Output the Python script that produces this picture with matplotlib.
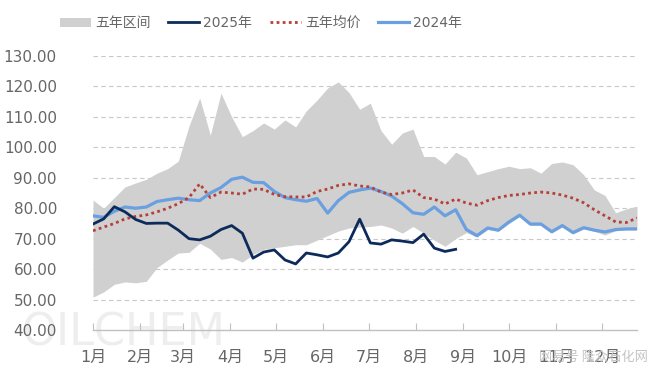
import matplotlib
matplotlib.use("Agg")
import matplotlib.pyplot as plt
import numpy as np

"""DATA (weekly, one point per week)"""
week_day = np.arange(52) * 7

band_high = [82.7, 80.0, 83.5, 87.0, 88.3, 89.5, 91.5, 93.0, 95.5, 107.0,
             116.2, 104.0, 117.8, 110.0, 103.5, 105.5, 108.0, 106.0, 109.0, 106.7,
             112.0, 115.5, 119.5, 121.5, 118.0, 112.5, 114.5, 105.5, 101.0, 104.7,
             106.0, 97.0, 97.0, 94.5, 98.4, 96.5, 91.0, 92.0, 93.0, 93.8,
             93.0, 93.3, 91.5, 94.7, 95.2, 94.3, 91.0, 86.0, 84.2, 78.5,
             79.8, 80.7]
band_low = [50.8, 52.5, 55.0, 55.8, 55.5, 56.0, 60.5, 63.0, 65.3, 65.5,
            68.5, 66.6, 63.2, 63.8, 62.3, 64.8, 66.5, 67.0, 67.5, 68.0,
            68.0, 69.5, 71.0, 72.5, 73.5, 73.8, 74.0, 74.5, 73.5, 71.8,
            74.0, 71.8, 69.5, 67.5, 70.0, 72.0, 70.5, 73.0, 72.4, 75.0,
            77.2, 74.4, 74.4, 71.8, 73.9, 71.5, 73.2, 72.4, 71.2, 72.6,
            72.9, 72.9]
avg_5y = [72.6, 73.8, 75.0, 76.5, 77.3, 77.8, 78.8, 80.0, 81.5, 83.5,
          88.0, 83.5, 85.3, 85.0, 84.6, 86.3, 86.2, 84.5, 83.8, 83.7,
          83.7, 85.5, 86.3, 87.5, 88.0, 87.3, 87.0, 85.3, 84.5, 85.0,
          86.0, 83.5, 83.0, 81.4, 83.0, 81.7, 81.0, 82.5, 83.5, 84.2,
          84.5, 85.0, 85.3, 85.0, 84.3, 83.3, 81.8, 79.5, 77.5, 75.5,
          75.3, 76.8]
y2024 = [77.5, 77.0, 79.0, 80.4, 80.0, 80.4, 82.2, 82.8, 83.3, 82.8,
         82.5, 85.0, 86.8, 89.5, 90.2, 88.5, 88.4, 85.5, 83.5, 82.8,
         82.3, 83.2, 78.4, 82.5, 85.2, 86.0, 86.6, 85.5, 84.0, 81.5,
         78.5, 78.0, 80.4, 77.5, 79.5, 73.0, 71.0, 73.5, 72.8, 75.5,
         77.7, 74.8, 74.8, 72.3, 74.3, 72.0, 73.6, 72.8, 72.2, 73.0,
         73.2, 73.2]
y2025 = [74.8, 76.5, 80.5, 78.8, 76.3, 75.0, 75.1, 75.1, 72.8, 70.0,
         69.6, 70.8, 73.0, 74.3, 71.8, 63.6, 65.6, 66.3, 63.0, 61.7,
         65.3, 64.7, 64.0, 65.3, 69.0, 76.4, 68.6, 68.2, 69.6, 69.2,
         68.7, 71.5, 66.9, 65.8, 66.5]

month_start = [0, 31, 59, 90, 120, 151, 181, 212, 243, 273, 304, 334]
month_labels = ["1月", "2月", "3月", "4月", "5月", "6月",
                "7月", "8月", "9月", "10月", "11月", "12月"]
y_ticks = [40, 50, 60, 70, 80, 90, 100, 110, 120, 130]

"""STYLE"""
plt.rcParams['font.family'] = ['DejaVu Sans', 'Noto Sans CJK SC']
_txt = "#666666"
_band = "#d0d0d0"
_navy = "#0d2b5a"
_blue = "#6a9fe0"
_red = "#b5403a"

fig = plt.figure(figsize=(6.6, 3.78), dpi=100)
ax = fig.add_axes([93/660, 1-330/378, 544/660, 274/378])

# watermarks
fig.text(22/660, 1-333/378, "OILCHEM", fontsize=32, color="#eeeeee",
         va="center", ha="left", zorder=-1)
fig.text(648/660, 1-357/378, "网易号 隆众石化网", fontsize=9.5, color="#c4c4c4",
         va="center", ha="right", family=['Noto Sans CJK SC', 'DejaVu Sans'], zorder=10)

ax.fill_between(week_day, band_low, band_high, color=_band, linewidth=0,
                label="五年区间", zorder=1)
ax.plot(week_day[:len(y2025)], y2025, color=_navy, linewidth=2.0,
        label="2025年", zorder=4)
ax.plot(week_day, avg_5y, color=_red, linewidth=2.0, linestyle=(0, (1, 1.2)),
        label="五年均价", zorder=3)
ax.plot(week_day, y2024, color=_blue, linewidth=2.3, label="2024年", zorder=2)

ax.set_xlim(0, week_day[-1])
ax.set_ylim(40, 130)
ax.set_yticks(y_ticks)
ax.set_yticklabels(["%.2f" % v for v in y_ticks])
ax.set_xticks(month_start)
ax.set_xticklabels(month_labels)

for v in y_ticks[1:]:
    ax.axhline(v, color="#c8c8c8", linewidth=0.8, linestyle=(0, (4, 3)), zorder=0)

for s in ["top", "right", "left"]:
    ax.spines[s].set_visible(False)
ax.spines["bottom"].set_color("#c0c0c0")
ax.spines["bottom"].set_linewidth(1.0)
ax.patch.set_alpha(0)

ax.tick_params(axis="y", length=0, pad=26, labelsize=11, labelcolor=_txt)
ax.tick_params(axis="x", direction="in", length=5, color="#c0c0c0", pad=14,
               labelsize=11.5, labelcolor=_txt)

leg = ax.legend(loc="center", bbox_to_anchor=(0.309, 1.12), ncol=4, frameon=False,
                fontsize=10, handlelength=2.2, handletextpad=0.3, columnspacing=1.3,
                handleheight=0.6)
for t in leg.get_texts():
    t.set_color(_txt)
    t.set_family(['DejaVu Sans', 'Noto Sans CJK SC'])

fig.savefig("out.png", dpi=100)
